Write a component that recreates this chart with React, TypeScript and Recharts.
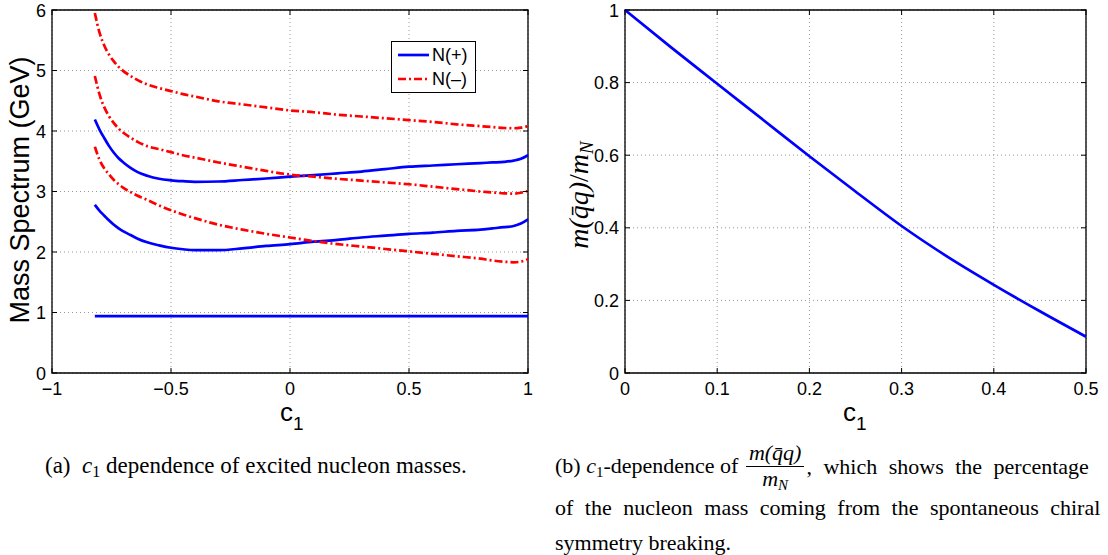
import React from "react";
import { LineChart, Line, XAxis, YAxis, CartesianGrid, ReferenceArea } from "recharts";

// c1 sample points (left panel)
const c1Values = [-0.82, -0.8, -0.78, -0.76, -0.74, -0.72, -0.7, -0.67, -0.64, -0.6, -0.55, -0.5, -0.45, -0.4, -0.3, -0.2, -0.1, 0, 0.1, 0.2, 0.3, 0.4, 0.5, 0.6, 0.7, 0.8, 0.85, 0.9, 0.94, 0.97, 1];

// N(+) states
const nucleonGround = [0.94, 0.94, 0.94, 0.94, 0.94, 0.94, 0.94, 0.94, 0.94, 0.94, 0.94, 0.94, 0.94, 0.94, 0.94, 0.94, 0.94, 0.94, 0.94, 0.94, 0.94, 0.94, 0.94, 0.94, 0.94, 0.94, 0.94, 0.94, 0.94, 0.94, 0.94];
const plusLower = [2.78, 2.68, 2.6, 2.52, 2.45, 2.39, 2.34, 2.28, 2.22, 2.16, 2.11, 2.07, 2.045, 2.03, 2.03, 2.06, 2.1, 2.13, 2.17, 2.2, 2.24, 2.27, 2.3, 2.32, 2.35, 2.37, 2.39, 2.41, 2.43, 2.47, 2.54];
const plusUpper = [4.19, 4.02, 3.88, 3.75, 3.64, 3.55, 3.48, 3.39, 3.32, 3.26, 3.21, 3.185, 3.17, 3.16, 3.165, 3.19, 3.215, 3.245, 3.27, 3.3, 3.33, 3.37, 3.41, 3.43, 3.45, 3.47, 3.48, 3.49, 3.51, 3.54, 3.6];

// N(-) states
const minusLower = [3.74, 3.52, 3.38, 3.28, 3.19, 3.12, 3.06, 2.99, 2.93, 2.86, 2.77, 2.69, 2.62, 2.56, 2.45, 2.37, 2.3, 2.24, 2.18, 2.13, 2.09, 2.05, 2.01, 1.97, 1.93, 1.89, 1.86, 1.84, 1.83, 1.84, 1.88];
const minusMiddle = [4.91, 4.6, 4.39, 4.24, 4.13, 4.04, 3.97, 3.89, 3.82, 3.75, 3.7, 3.65, 3.6, 3.56, 3.48, 3.41, 3.34, 3.28, 3.245, 3.21, 3.18, 3.15, 3.12, 3.08, 3.04, 3.0, 2.985, 2.97, 2.965, 2.98, 3.01];
const minusUpper = [5.95, 5.62, 5.41, 5.26, 5.15, 5.06, 4.99, 4.91, 4.84, 4.77, 4.71, 4.66, 4.61, 4.57, 4.49, 4.44, 4.39, 4.34, 4.31, 4.27, 4.24, 4.21, 4.18, 4.15, 4.11, 4.08, 4.065, 4.05, 4.045, 4.055, 4.08];

// right panel: m(qq)/m_N vs c1
const c1Right = [0, 0.05, 0.1, 0.15, 0.2, 0.25, 0.3, 0.35, 0.4, 0.45, 0.5];
const massRatio = [1.0, 0.897, 0.797, 0.697, 0.597, 0.5, 0.405, 0.32, 0.243, 0.17, 0.1];

const leftXTicks = [-1, -0.5, 0, 0.5, 1];
const leftYTicks = [0, 1, 2, 3, 4, 5, 6];
const rightXTicks = [0, 0.1, 0.2, 0.3, 0.4, 0.5];
const rightYTicks = [0, 0.2, 0.4, 0.6, 0.8, 1];

const BLUE = "#0000ff";
const RED = "#ff0000";
const SANS = "'Liberation Sans', Arial, Helvetica, sans-serif";
const SERIF = "'Liberation Serif', 'Times New Roman', serif";

const fmt = (v: number) => (v < 0 ? "\u2212" + String(-v) : String(v));

// label + inward MATLAB-style ticks on both sides of the box
const makeXTick = (top: number, bottom: number) => (props: any) => {
    const { x, payload } = props;
    return (
        <g>
            <line x1={x} x2={x} y1={bottom} y2={bottom - 5} stroke="#000" />
            <line x1={x} x2={x} y1={top} y2={top + 5} stroke="#000" />
            <text x={x} y={bottom + 22} textAnchor="middle" fontSize={18} fontFamily={SANS} fill="#000">
                {fmt(payload.value)}
            </text>
        </g>
    );
};

const makeYTick = (left: number, right: number) => (props: any) => {
    const { y, payload } = props;
    return (
        <g>
            <line x1={left} x2={left + 5} y1={y} y2={y} stroke="#000" />
            <line x1={right} x2={right - 5} y1={y} y2={y} stroke="#000" />
            <text x={left - 6} y={y + 6.5} textAnchor="end" fontSize={18} fontFamily={SANS} fill="#000">
                {fmt(payload.value)}
            </text>
        </g>
    );
};

const leftData = c1Values.map((c, i) => ({
    c1: c,
    ground: nucleonGround[i],
    pLow: plusLower[i],
    pUp: plusUpper[i],
    mLow: minusLower[i],
    mMid: minusMiddle[i],
    mUp: minusUpper[i],
}));

const rightData = c1Right.map((c, i) => ({ c1: c, ratio: massRatio[i] }));

const DASHDOT = "8 3 2 3";
const LW = 2.7;

const sub = (t: string, size = 15, dy = 4, italic = false) => (
    <span style={{ fontSize: size, position: "relative", top: dy, fontStyle: italic ? "italic" : "normal" }}>{t}</span>
);

const App: React.FC = () => {
    return (
        <div style={{ position: "absolute", left: 0, top: 0, width: 1108, height: 555, background: "#fff", overflow: "hidden" }}>
            {/* left panel */}
            <div style={{ position: "absolute", left: 0, top: 0 }}>
                <LineChart width={540} height={420} data={leftData} margin={{ top: 10, right: 12, left: 0, bottom: 17 }}>
                    <CartesianGrid stroke="#999" strokeDasharray="1 3" />
                    <XAxis dataKey="c1" type="number" domain={[-1, 1]} ticks={leftXTicks} height={30}
                        axisLine={false} tickLine={false} tick={makeXTick(10, 373)} interval={0} />
                    <YAxis type="number" domain={[0, 6]} ticks={leftYTicks} width={52}
                        axisLine={false} tickLine={false} tick={makeYTick(52, 528)} interval={0} />
                    <ReferenceArea x1={-1} x2={1} y1={0} y2={6} fill="none" stroke="#000" strokeWidth={1.3} ifOverflow="visible" />
                    <Line dataKey="ground" type="monotone" stroke={BLUE} strokeWidth={LW} dot={false} isAnimationActive={false} />
                    <Line dataKey="pLow" type="monotone" stroke={BLUE} strokeWidth={LW} dot={false} isAnimationActive={false} />
                    <Line dataKey="pUp" type="monotone" stroke={BLUE} strokeWidth={LW} dot={false} isAnimationActive={false} />
                    <Line dataKey="mLow" type="monotone" stroke={RED} strokeWidth={LW} strokeDasharray={DASHDOT} dot={false} isAnimationActive={false} />
                    <Line dataKey="mMid" type="monotone" stroke={RED} strokeWidth={LW} strokeDasharray={DASHDOT} dot={false} isAnimationActive={false} />
                    <Line dataKey="mUp" type="monotone" stroke={RED} strokeWidth={LW} strokeDasharray={DASHDOT} dot={false} isAnimationActive={false} />
                </LineChart>
            </div>

            {/* legend */}
            <div style={{ position: "absolute", left: 391, top: 41, width: 83, height: 50, border: "1px solid #000", background: "#fff", fontFamily: SANS, fontSize: 18 }}>
                <svg width={34} height={50} style={{ position: "absolute", left: 4, top: 0 }}>
                    <line x1={2} x2={33} y1={13} y2={13} stroke={BLUE} strokeWidth={LW} />
                    <line x1={2} x2={33} y1={37} y2={37} stroke={RED} strokeWidth={LW} strokeDasharray={DASHDOT} />
                </svg>
                <div style={{ position: "absolute", left: 40, top: 2, lineHeight: "22px" }}>N(+)</div>
                <div style={{ position: "absolute", left: 40, top: 26, lineHeight: "22px" }}>N(–)</div>
            </div>

            {/* left axis titles */}
            <div style={{ position: "absolute", left: 20, top: 190, transform: "translate(-50%, -50%) rotate(-90deg)", whiteSpace: "nowrap", fontFamily: SANS, fontSize: 27 }}>
                Mass Spectrum (GeV)
            </div>
            <div style={{ position: "absolute", left: 280, top: 399, fontFamily: SANS, fontSize: 26, lineHeight: "26px" }}>
                c<span style={{ fontSize: 19, position: "relative", top: 9 }}>1</span>
            </div>

            {/* right panel */}
            <div style={{ position: "absolute", left: 560, top: 0 }}>
                <LineChart width={540} height={420} data={rightData} margin={{ top: 10, right: 14, left: 0, bottom: 17 }}>
                    <CartesianGrid stroke="#999" strokeDasharray="1 3" />
                    <XAxis dataKey="c1" type="number" domain={[0, 0.5]} ticks={rightXTicks} height={30}
                        axisLine={false} tickLine={false} tick={makeXTick(10, 373)} interval={0} />
                    <YAxis type="number" domain={[0, 1]} ticks={rightYTicks} width={65}
                        axisLine={false} tickLine={false} tick={makeYTick(65, 526)} interval={0} />
                    <ReferenceArea x1={0} x2={0.5} y1={0} y2={1} fill="none" stroke="#000" strokeWidth={1.3} ifOverflow="visible" />
                    <Line dataKey="ratio" type="monotone" stroke={BLUE} strokeWidth={LW} dot={false} isAnimationActive={false} />
                </LineChart>
            </div>

            {/* right axis titles */}
            <div style={{ position: "absolute", left: 579, top: 195, transform: "translate(-50%, -50%) rotate(-90deg)", whiteSpace: "nowrap", fontFamily: SERIF, fontStyle: "italic", fontSize: 28 }}>
                m(q̄q)<span style={{ fontStyle: "normal" }}>/</span>m{sub("N", 19, 5, true)}
            </div>
            <div style={{ position: "absolute", left: 843, top: 399, fontFamily: SANS, fontSize: 26, lineHeight: "26px" }}>
                c<span style={{ fontSize: 19, position: "relative", top: 9 }}>1</span>
            </div>

            {/* captions */}
            <div style={{ position: "absolute", left: 45, top: 453, fontFamily: SERIF, fontSize: 23, lineHeight: "26px", whiteSpace: "nowrap" }}>
                (a)&nbsp; <i>c</i>{sub("1", 16)} dependence of excited nucleon masses.
            </div>
            <div style={{ position: "absolute", left: 555, top: 429, fontFamily: SERIF, fontSize: 22, whiteSpace: "nowrap", lineHeight: "26px" }}>
                <div style={{ display: "flex", alignItems: "center", height: 76 }}>
                    <span>(b)&nbsp;<i>c</i>{sub("1")}-dependence of&nbsp;</span>
                    <span style={{ display: "inline-flex", flexDirection: "column", alignItems: "center", margin: "0 2px", lineHeight: "24px" }}>
                        <span style={{ fontStyle: "italic", borderBottom: "1px solid #000", padding: "0 3px 1px" }}>m(q̄q)</span>
                        <span style={{ fontStyle: "italic" }}>m{sub("N", 15, 4, true)}</span>
                    </span>
                    <span style={{ wordSpacing: 6 }}>, which shows the percentage</span>
                </div>
            </div>
            <div style={{ position: "absolute", left: 555, top: 490, fontFamily: SERIF, fontSize: 22, whiteSpace: "nowrap", lineHeight: "35px" }}>
                <div style={{ wordSpacing: 6 }}>of the nucleon mass coming from the spontaneous chiral</div>
                <div>symmetry breaking.</div>
            </div>
        </div>
    );
};

export default App;
